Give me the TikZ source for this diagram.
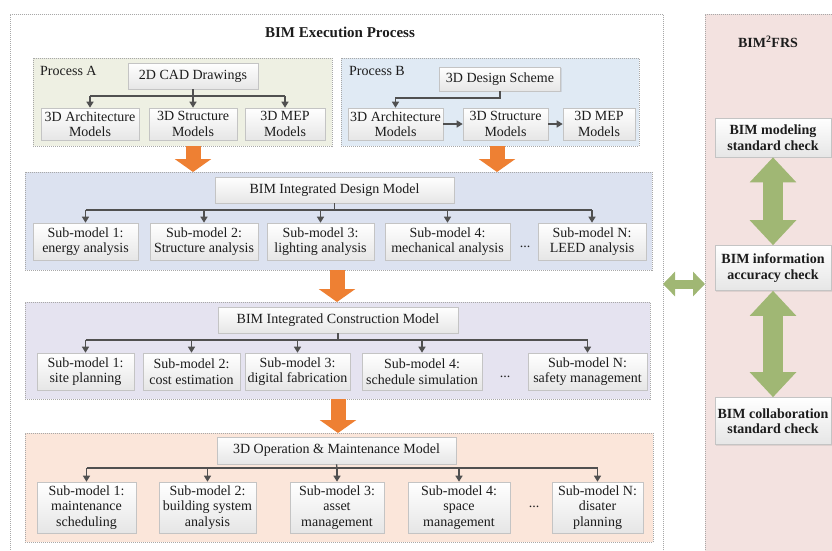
\documentclass[tikz,border=0pt]{standalone}
\usepackage{fontspec}
\setmainfont{Liberation Serif}
\usetikzlibrary{arrows.meta,shadows}
\definecolor{gAfill}{HTML}{EEF0E3}
\definecolor{gBfill}{HTML}{E0EAF4}
\definecolor{gDfill}{HTML}{DCE2F0}
\definecolor{gCfill}{HTML}{E5E3F0}
\definecolor{gOfill}{HTML}{FBE6DA}
\definecolor{pinkfill}{HTML}{F3E2E0}
\definecolor{grpdraw}{HTML}{A8A8A8}
\definecolor{boxdraw}{HTML}{C4C4C4}
\definecolor{boxbot}{HTML}{E6E6E6}
\definecolor{linec}{HTML}{505050}
\definecolor{txt}{HTML}{1C1C1C}
\definecolor{orangeA}{HTML}{EE8033}
\definecolor{greenA}{HTML}{A0B774}
\newcommand\bodyfs{\fontsize{14}{15.5}\selectfont}
\begin{document}
\begin{tikzpicture}[x=1pt,y=-1pt,
  grp/.style={draw=grpdraw, dash pattern=on 1pt off 1pt, line width=0.7pt, anchor=north west, inner sep=0pt},
  bx/.style={draw=boxdraw, top color=white, bottom color=boxbot, line width=0.6pt, inner sep=1pt, align=center, font=\bodyfs, text=txt,
     drop shadow={shadow xshift=1pt, shadow yshift=-1pt, opacity=0.18}},
  rbx/.style={bx, font=\bodyfs\bfseries},
  lin/.style={draw=linec, line width=1.3pt},
  conn/.style={lin, -{Triangle[width=7pt,length=6pt]}},
  oarr/.style={draw=orangeA, line width=15pt, -{Triangle[width=36pt,length=13pt]}},
  garr/.style={draw=greenA, line width=20pt, {Triangle[width=45pt,length=25pt]}-{Triangle[width=45pt,length=25pt]}},
  garrh/.style={draw=greenA, line width=9pt, {Triangle[width=24pt,length=12pt]}-{Triangle[width=24pt,length=12pt]}},
  lbl/.style={font=\bodyfs, text=txt, inner sep=0pt}
]
\useasboundingbox (0,0) rectangle (832,550);

% outer frames
\node[grp, fill=white, minimum width=653pt, minimum height=545pt] (outer) at (10,14) {};
\node[grp, fill=pinkfill, minimum width=130pt, minimum height=545pt] (pink) at (705,14) {};
\node[font=\fontsize{15}{17}\selectfont\bfseries, text=txt] (title) at (340,32) {BIM Execution Process};
\node[font=\fontsize{14}{16}\selectfont\bfseries, text=txt] (rtitle) at (768,42) {BIM\textsuperscript{2}FRS};

% groups
\node[grp, fill=gAfill, minimum width=299pt, minimum height=88pt] (gA) at (33,58) {};
\node[grp, fill=gBfill, minimum width=298pt, minimum height=88pt] (gB) at (341,58) {};
\node[grp, fill=gDfill, minimum width=627pt, minimum height=98pt] (gD) at (25,172) {};
\node[grp, fill=gCfill, minimum width=625pt, minimum height=97pt] (gC) at (25,302) {};
\node[grp, fill=gOfill, minimum width=628pt, minimum height=109pt] (gO) at (25,433) {};

\node[lbl, anchor=west] (pA) at (40,71) {Process A};
\node[lbl, anchor=west] (pB) at (349,71) {Process B};

% Process A
\node[bx, minimum width=130pt, minimum height=26pt] (cad) at (193,76) {2D CAD Drawings};
\node[bx, minimum width=98pt, minimum height=32pt] (a1) at (90,124) {3D Architecture\\Models};
\node[bx, minimum width=88pt, minimum height=32pt] (a2) at (193,124) {3D Structure\\Models};
\node[bx, minimum width=80pt, minimum height=32pt] (a3) at (285,124) {3D MEP\\Models};
\coordinate (busA) at (193,96);
\draw[lin] (cad.south) -- (busA);
\draw[lin] (a1.north |- busA) -- (a3.north |- busA);
\foreach \n in {a1,a2,a3} \draw[conn] (\n.north |- busA) -- (\n.north);

% Process B
\node[bx, minimum width=121pt, minimum height=24pt] (ds) at (500,79) {3D Design Scheme};
\node[bx, minimum width=95pt, minimum height=32pt] (b1) at (395.5,124) {3D Architecture\\Models};
\node[bx, minimum width=85pt, minimum height=32pt] (b2) at (505.5,124) {3D Structure\\Models};
\node[bx, minimum width=72pt, minimum height=32pt] (b3) at (599,124) {3D MEP\\Models};
\coordinate (busB) at (500,98);
\draw[conn] (ds.south) -- (busB) -| (b1.north);
\draw[conn] (b1.east) -- (b2.west);
\draw[conn] (b2.east) -- (b3.west);

% Design model
\node[bx, minimum width=239pt, minimum height=26pt] (dm) at (334.5,190) {BIM Integrated Design Model};
\node[bx, minimum width=105pt, minimum height=37pt] (d1) at (85.5,241.5) {Sub-model 1:\\energy analysis};
\node[bx, minimum width=108pt, minimum height=37pt] (d2) at (204,241.5) {Sub-model 2:\\Structure analysis};
\node[bx, minimum width=107pt, minimum height=37pt] (d3) at (320.5,241.5) {Sub-model 3:\\lighting analysis};
\node[bx, minimum width=125pt, minimum height=37pt] (d4) at (447.5,241.5) {Sub-model 4:\\mechanical analysis};
\node[bx, minimum width=108pt, minimum height=37pt] (dN) at (592,241.5) {Sub-model N:\\LEED analysis};
\node[lbl] (ddots) at (525,247) {...};
\coordinate (busD) at (334.5,210);
\draw[lin] (dm.south) -- (busD);
\draw[lin] (d1.north |- busD) -- (dN.north |- busD);
\foreach \n in {d1,d2,d3,d4,dN} \draw[conn] (\n.north |- busD) -- (\n.north);

% Construction model
\node[bx, minimum width=240pt, minimum height=26pt] (cm) at (338,320) {BIM Integrated Construction Model};
\node[bx, minimum width=97pt, minimum height=37pt] (c1) at (85.5,371.5) {Sub-model 1:\\site planning};
\node[bx, minimum width=97pt, minimum height=37pt] (c2) at (191.5,371.5) {Sub-model 2:\\cost estimation};
\node[bx, minimum width=105pt, minimum height=37pt] (c3) at (297.5,371.5) {Sub-model 3:\\digital fabrication};
\node[bx, minimum width=120pt, minimum height=37pt] (c4) at (422,371.5) {Sub-model 4:\\schedule simulation};
\node[bx, minimum width=119pt, minimum height=37pt] (cN) at (587.5,371.5) {Sub-model N:\\safety management};
\node[lbl] (cdots) at (505,377) {...};
\coordinate (busC) at (338,340);
\draw[lin] (cm.south) -- (busC);
\draw[lin] (c1.north |- busC) -- (cN.north |- busC);
\foreach \n in {c1,c2,c3,c4,cN} \draw[conn] (\n.north |- busC) -- (\n.north);

% O&M model
\node[bx, minimum width=239pt, minimum height=27pt] (om) at (336.5,450.5) {3D Operation \& Maintenance Model};
\node[bx, minimum width=99pt, minimum height=51pt] (o1) at (86.5,507.5) {Sub-model 1:\\maintenance\\scheduling};
\node[bx, minimum width=97pt, minimum height=51pt] (o2) at (207.5,507.5) {Sub-model 2:\\building system\\analysis};
\node[bx, minimum width=94pt, minimum height=51pt] (o3) at (337,507.5) {Sub-model 3:\\asset\\management};
\node[bx, minimum width=102pt, minimum height=51pt] (o4) at (459,507.5) {Sub-model 4:\\space\\management};
\node[bx, minimum width=91pt, minimum height=51pt] (oN) at (597.5,507.5) {Sub-model N:\\disater\\planning};
\node[lbl] (odots) at (534,507) {...};
\coordinate (busO) at (337,468);
\draw[lin] (om.south) -- (busO);
\draw[lin] (o1.north |- busO) -- (oN.north |- busO);
\foreach \n in {o1,o2,o3,o4,oN} \draw[conn] (\n.north |- busO) -- (\n.north);

% orange flow arrows
\draw[oarr] (193,146) -- (193,172);
\draw[oarr] (497,146) -- (497,172);
\draw[oarr] (337,270) -- (337,302);
\draw[oarr] (338,399) -- (338,433);

% right side checks
\node[rbx, minimum width=116pt, minimum height=39pt] (r1) at (773,137.5) {BIM modeling\\standard check};
\node[rbx, minimum width=116pt, minimum height=45pt] (r2) at (773,268) {BIM information\\accuracy check};
\node[rbx, minimum width=116pt, minimum height=47pt] (r3) at (773,421) {BIM collaboration\\standard check};
\draw[garr] (r1.south) -- (r2.north);
\draw[garr] (r2.south) -- (r3.north);
\coordinate (hl) at (663,284);
\coordinate (hr) at (705,284);
\draw[garrh] (hl) -- (hr);
\end{tikzpicture}
\end{document}
